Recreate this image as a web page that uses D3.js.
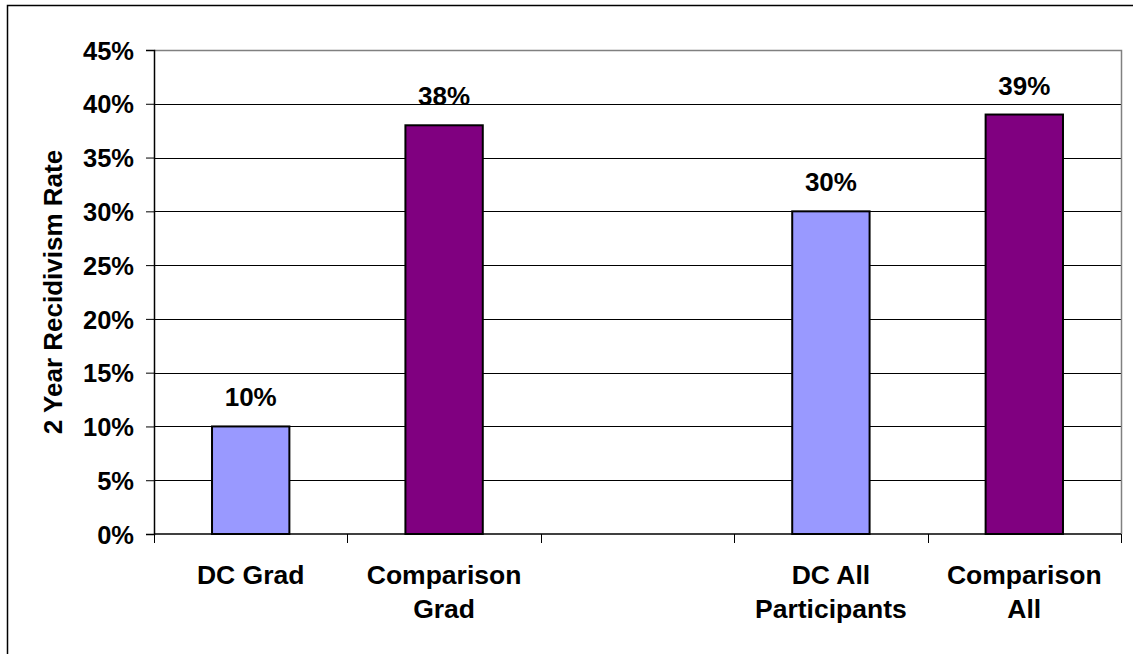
<!DOCTYPE html>
<html>
  <head>
    <meta charset="utf-8">
    <script src="https://d3js.org/d3.v7.min.js"></script>
    <style>
      body { margin: 0; background: #fff; }
      svg text { font-family: Arial, "Liberation Sans", sans-serif; font-weight: bold; fill: #000; }
    </style>
  </head>
  <body>
    <svg id="chart" width="1133" height="654"></svg>
    <script>
      // chart values
      const categories = ["DC Grad", "Comparison Grad", "", "DC All Participants", "Comparison All"]
      const labelLines = [["DC Grad"], ["Comparison", "Grad"], [], ["DC All", "Participants"], ["Comparison", "All"]]
      const rates = [10, 38, null, 30, 39]
      const barColors = ["#9999ff", "#800080", null, "#9999ff", "#800080"]
      const yTicks = [0, 5, 10, 15, 20, 25, 30, 35, 40, 45]

      const svg = d3.select('#chart')
      const plotLeft = 154, plotRight = 1121, plotTop = 50, plotBottom = 534

      // outer frame (only top and left visible)
      svg.append('path')
        .attr('d', 'M7.5,660 V5.5 H1140')
        .attr('fill', 'none')
        .attr('stroke', '#000')
        .attr('stroke-width', 1.5)

      let x = d3.scaleBand().domain(categories.map((d, i) => i)).range([plotLeft, plotRight])
      let y = d3.scaleLinear().domain([0, 45]).range([plotBottom, plotTop])

      // gridlines
      svg.append('g').selectAll('line')
        .data(yTicks.filter(d => d > 0 && d < 45))
        .join('line')
        .attr('x1', plotLeft).attr('x2', plotRight)
        .attr('y1', d => Math.round(y(d)) + 0.5).attr('y2', d => Math.round(y(d)) + 0.5)
        .attr('stroke', '#000')
        .attr('stroke-width', 1)

      // plot area border, top and right
      svg.append('path')
        .attr('d', `M${plotLeft},${Math.round(y(45)) + 0.5} H${plotRight + 0.5} V${plotBottom}`)
        .attr('fill', 'none')
        .attr('stroke', '#808080')
        .attr('stroke-width', 1.5)

      // bars
      const barW = x.bandwidth() * 0.4
      const barData = rates.map((v, i) => ({v, i})).filter(d => d.v != null)
      svg.append('g').selectAll('rect')
        .data(barData)
        .join('rect')
        .attr('x', d => x(d.i) + (x.bandwidth() - barW) / 2)
        .attr('width', barW)
        .attr('y', d => y(d.v))
        .attr('height', d => plotBottom - y(d.v))
        .attr('fill', d => barColors[d.i])
        .attr('stroke', '#000')
        .attr('stroke-width', 2)

      // value labels
      svg.append('g').selectAll('text')
        .data(barData)
        .join('text')
        .attr('x', d => x(d.i) + x.bandwidth() / 2)
        .attr('y', d => y(d.v) - 20)
        .attr('text-anchor', 'middle')
        .style('font-size', '26px')
        .text(d => d.v + '%')

      // y axis
      const yAxis = svg.append('g')
        .attr('transform', `translate(${plotLeft},0)`)
        .call(d3.axisLeft(y).tickValues(yTicks).tickSize(8).tickPadding(12).tickFormat(d => d + '%'))
      yAxis.select('.domain').attr('stroke', '#000').attr('stroke-width', 1.5)
      yAxis.selectAll('.tick line').attr('stroke', '#000')
      yAxis.selectAll('.tick text').style('font-size', '25.5px').attr('dy', '0.36em')

      // x axis
      const xAxis = svg.append('g').attr('transform', `translate(0,${plotBottom})`)
      xAxis.append('line')
        .attr('x1', plotLeft).attr('x2', plotRight)
        .attr('stroke', '#000').attr('stroke-width', 1.5)
      const bounds = categories.map((d, i) => x(i)).concat([plotRight])
      xAxis.selectAll('line.tk')
        .data(bounds)
        .join('line')
        .attr('class', 'tk')
        .attr('x1', d => Math.round(d) + 0.5).attr('x2', d => Math.round(d) + 0.5)
        .attr('y1', 0).attr('y2', 9)
        .attr('stroke', '#000')
      xAxis.selectAll('text.cat')
        .data(labelLines.map((lines, i) => ({lines, i})))
        .join('text')
        .attr('class', 'cat')
        .attr('text-anchor', 'middle')
        .style('font-size', '26.5px')
        .selectAll('tspan')
        .data(d => d.lines.map((t, k) => ({t, k, i: d.i})))
        .join('tspan')
        .attr('x', d => x(d.i) + x.bandwidth() / 2)
        .attr('y', d => 50 + d.k * 34)
        .text(d => d.t)

      // y axis title
      svg.append('text')
        .attr('transform', 'translate(62,292) rotate(-90)')
        .attr('text-anchor', 'middle')
        .style('font-size', '26px')
        .text('2 Year Recidivism Rate')
    </script>
  </body>
</html>
